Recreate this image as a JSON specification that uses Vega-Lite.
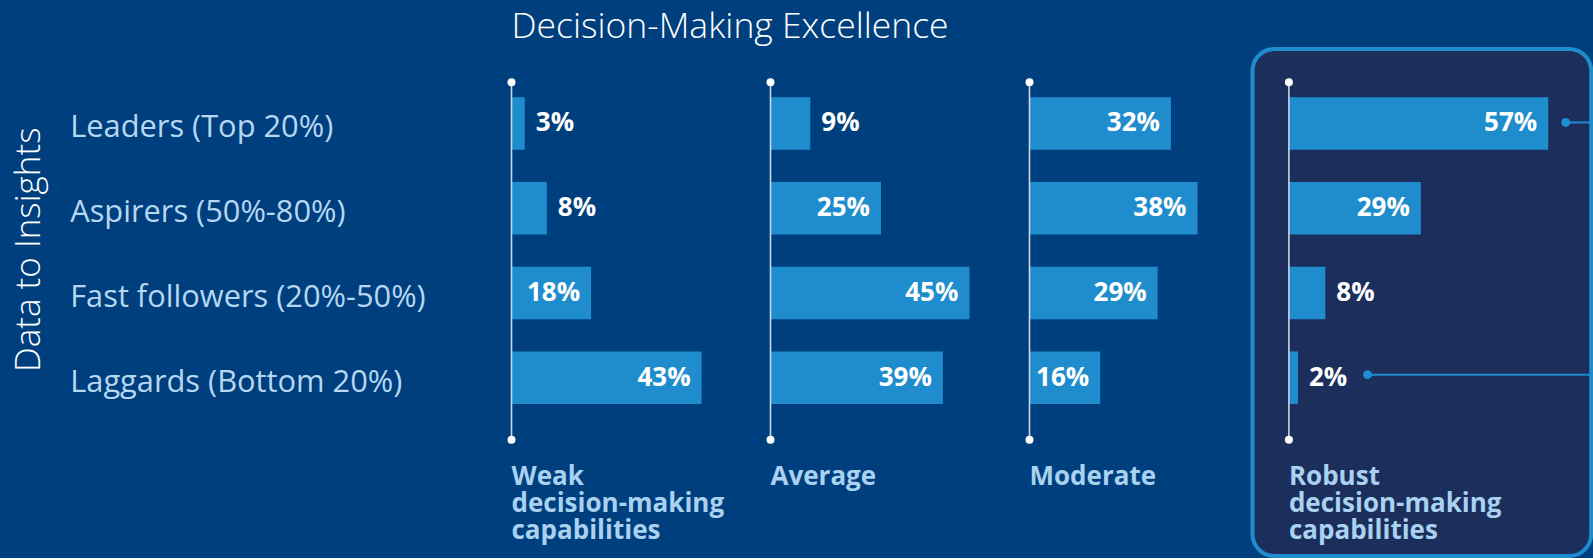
{
  "$schema": "https://vega.github.io/schema/vega-lite/v6.json",
  "background": "#003f7d",
  "padding": {"left": 10.5, "top": 9, "right": 0, "bottom": 0},
  "autosize": {"type": "pad"},
  "title": {"text": "Decision-Making Excellence", "anchor": "start", "frame": "group", "font": "Open Sans", "fontSize": 35.5, "fontWeight": 300, "color": "#ffffff", "offset": -26, "baseline": "alphabetic"},
  "datasets": {
    "bars": [
      {"level": "Weak", "segment": "Leaders (Top 20%)", "value": 0.03},
      {"level": "Weak", "segment": "Aspirers (50%-80%)", "value": 0.08},
      {"level": "Weak", "segment": "Fast followers (20%-50%)", "value": 0.18},
      {"level": "Weak", "segment": "Laggards (Bottom 20%)", "value": 0.43},
      {"level": "Average", "segment": "Leaders (Top 20%)", "value": 0.09},
      {"level": "Average", "segment": "Aspirers (50%-80%)", "value": 0.25},
      {"level": "Average", "segment": "Fast followers (20%-50%)", "value": 0.45},
      {"level": "Average", "segment": "Laggards (Bottom 20%)", "value": 0.39},
      {"level": "Moderate", "segment": "Leaders (Top 20%)", "value": 0.32},
      {"level": "Moderate", "segment": "Aspirers (50%-80%)", "value": 0.38},
      {"level": "Moderate", "segment": "Fast followers (20%-50%)", "value": 0.29},
      {"level": "Moderate", "segment": "Laggards (Bottom 20%)", "value": 0.16},
      {"level": "Robust", "segment": "Leaders (Top 20%)", "value": 0.57},
      {"level": "Robust", "segment": "Aspirers (50%-80%)", "value": 0.29},
      {"level": "Robust", "segment": "Fast followers (20%-50%)", "value": 0.08},
      {"level": "Robust", "segment": "Laggards (Bottom 20%)", "value": 0.02}
    ],
    "captions": [
      {"level": "Weak", "caption": "Weak\ndecision-making\ncapabilities"},
      {"level": "Average", "caption": "Average"},
      {"level": "Moderate", "caption": "Moderate"},
      {"level": "Robust", "caption": "Robust\ndecision-making\ncapabilities"}
    ]
  },
  "spacing": 0,
  "bounds": "flush",
  "hconcat": [
    {
      "width": 258.4, "height": 507,
      "data": {"name": "bars"},
      "transform": [{"filter": "datum.level === 'Weak'"}],
      "encoding": {"y": {"field": "segment", "type": "nominal",
        "scale": {"domain": ["Leaders (Top 20%)", "Aspirers (50%-80%)", "Fast followers (20%-50%)", "Laggards (Bottom 20%)"], "range": [48.2, 354.9], "paddingInner": 0.3804, "paddingOuter": 0},
        "axis": {"title": "Data to Insights", "labelAlign": "left", "labelBaseline": "middle", "labelPadding": 441.8, "labelOffset": 5, "labelFont": "Open Sans", "labelFontSize": 30.8, "labelColor": "#b6d7f2", "labelLimit": 0, "domain": false, "ticks": false, "grid": false, "titleFont": "Open Sans", "titleFontSize": 35, "titleFontWeight": 300, "titleColor": "#ffffff", "titleAngle": 270, "titleAlign": "center", "titleBaseline": "middle", "titleX": -483.3, "titleY": 200.3}}},
      "layer": [
        {"mark": {"type": "bar", "color": "#1f8dcd"}, "encoding": {"x": {"field": "value", "type": "quantitative", "scale": {"domain": [0, 0.5846], "nice": false, "zero": false}, "axis": null}}},
        {"transform": [{"filter": "datum.value >= 0.1"}], "mark": {"type": "text", "align": "right", "baseline": "middle", "dx": -11, "font": "Open Sans", "fontSize": 26, "fontWeight": "bold", "color": "#ffffff"}, "encoding": {"x": {"field": "value", "type": "quantitative"}, "text": {"field": "value", "type": "quantitative", "format": ".0%"}}},
        {"transform": [{"filter": "datum.value < 0.1"}], "mark": {"type": "text", "align": "left", "baseline": "middle", "dx": 11, "font": "Open Sans", "fontSize": 26, "fontWeight": "bold", "color": "#ffffff"}, "encoding": {"x": {"field": "value", "type": "quantitative"}, "text": {"field": "value", "type": "quantitative", "format": ".0%"}}},
        {"data": {"name": "captions"}, "transform": [{"filter": "datum.level === 'Weak'"}], "mark": {"type": "rule", "color": "#c9d4e6", "strokeWidth": 1.6, "yOffset": -41.15, "y2Offset": 62.15}, "encoding": {"x": {"datum": 0, "type": "quantitative"}, "y": {"datum": "Leaders (Top 20%)", "type": "nominal"}, "y2": {"datum": "Laggards (Bottom 20%)"}}},
        {"data": {"name": "captions"}, "transform": [{"filter": "datum.level === 'Weak'"}], "mark": {"type": "point", "filled": true, "opacity": 1, "color": "#ffffff", "size": 64, "yOffset": -41.15}, "encoding": {"x": {"datum": 0, "type": "quantitative"}, "y": {"datum": "Leaders (Top 20%)", "type": "nominal"}}},
        {"data": {"name": "captions"}, "transform": [{"filter": "datum.level === 'Weak'"}], "mark": {"type": "point", "filled": true, "opacity": 1, "color": "#ffffff", "size": 64, "yOffset": 62.15}, "encoding": {"x": {"datum": 0, "type": "quantitative"}, "y": {"datum": "Laggards (Bottom 20%)", "type": "nominal"}}},
        {"data": {"name": "captions"}, "transform": [{"filter": "datum.level === 'Weak'"}], "mark": {"type": "text", "align": "left", "baseline": "alphabetic", "lineBreak": "\n", "lineHeight": 26.8, "font": "Open Sans", "fontSize": 26, "fontWeight": "bold", "color": "#a9d1f0", "yOffset": 107.6}, "encoding": {"x": {"datum": 0, "type": "quantitative"}, "y": {"datum": "Laggards (Bottom 20%)", "type": "nominal"}, "text": {"field": "caption"}}}
      ]
    },
    {
      "width": 258.5, "height": 507,
      "data": {"name": "bars"},
      "transform": [{"filter": "datum.level === 'Average'"}],
      "encoding": {"y": {"field": "segment", "type": "nominal",
        "scale": {"domain": ["Leaders (Top 20%)", "Aspirers (50%-80%)", "Fast followers (20%-50%)", "Laggards (Bottom 20%)"], "range": [48.2, 354.9], "paddingInner": 0.3804, "paddingOuter": 0},
        "axis": null}},
      "layer": [
        {"mark": {"type": "bar", "color": "#1f8dcd"}, "encoding": {"x": {"field": "value", "type": "quantitative", "scale": {"domain": [0, 0.5848], "nice": false, "zero": false}, "axis": null}}},
        {"transform": [{"filter": "datum.value >= 0.1"}], "mark": {"type": "text", "align": "right", "baseline": "middle", "dx": -11, "font": "Open Sans", "fontSize": 26, "fontWeight": "bold", "color": "#ffffff"}, "encoding": {"x": {"field": "value", "type": "quantitative"}, "text": {"field": "value", "type": "quantitative", "format": ".0%"}}},
        {"transform": [{"filter": "datum.value < 0.1"}], "mark": {"type": "text", "align": "left", "baseline": "middle", "dx": 11, "font": "Open Sans", "fontSize": 26, "fontWeight": "bold", "color": "#ffffff"}, "encoding": {"x": {"field": "value", "type": "quantitative"}, "text": {"field": "value", "type": "quantitative", "format": ".0%"}}},
        {"data": {"name": "captions"}, "transform": [{"filter": "datum.level === 'Average'"}], "mark": {"type": "rule", "color": "#c9d4e6", "strokeWidth": 1.6, "yOffset": -41.15, "y2Offset": 62.15}, "encoding": {"x": {"datum": 0, "type": "quantitative"}, "y": {"datum": "Leaders (Top 20%)", "type": "nominal"}, "y2": {"datum": "Laggards (Bottom 20%)"}}},
        {"data": {"name": "captions"}, "transform": [{"filter": "datum.level === 'Average'"}], "mark": {"type": "point", "filled": true, "opacity": 1, "color": "#ffffff", "size": 64, "yOffset": -41.15}, "encoding": {"x": {"datum": 0, "type": "quantitative"}, "y": {"datum": "Leaders (Top 20%)", "type": "nominal"}}},
        {"data": {"name": "captions"}, "transform": [{"filter": "datum.level === 'Average'"}], "mark": {"type": "point", "filled": true, "opacity": 1, "color": "#ffffff", "size": 64, "yOffset": 62.15}, "encoding": {"x": {"datum": 0, "type": "quantitative"}, "y": {"datum": "Laggards (Bottom 20%)", "type": "nominal"}}},
        {"data": {"name": "captions"}, "transform": [{"filter": "datum.level === 'Average'"}], "mark": {"type": "text", "align": "left", "baseline": "alphabetic", "lineBreak": "\n", "lineHeight": 26.8, "font": "Open Sans", "fontSize": 26, "fontWeight": "bold", "color": "#a9d1f0", "yOffset": 107.6}, "encoding": {"x": {"datum": 0, "type": "quantitative"}, "y": {"datum": "Laggards (Bottom 20%)", "type": "nominal"}, "text": {"field": "caption"}}}
      ]
    },
    {
      "width": 222.3, "height": 507,
      "data": {"name": "bars"},
      "transform": [{"filter": "datum.level === 'Moderate'"}],
      "encoding": {"y": {"field": "segment", "type": "nominal",
        "scale": {"domain": ["Leaders (Top 20%)", "Aspirers (50%-80%)", "Fast followers (20%-50%)", "Laggards (Bottom 20%)"], "range": [48.2, 354.9], "paddingInner": 0.3804, "paddingOuter": 0},
        "axis": null}},
      "layer": [
        {"mark": {"type": "bar", "color": "#1f8dcd"}, "encoding": {"x": {"field": "value", "type": "quantitative", "scale": {"domain": [0, 0.5029], "nice": false, "zero": false}, "axis": null}}},
        {"transform": [{"filter": "datum.value >= 0.1"}], "mark": {"type": "text", "align": "right", "baseline": "middle", "dx": -11, "font": "Open Sans", "fontSize": 26, "fontWeight": "bold", "color": "#ffffff"}, "encoding": {"x": {"field": "value", "type": "quantitative"}, "text": {"field": "value", "type": "quantitative", "format": ".0%"}}},
        {"data": {"name": "captions"}, "transform": [{"filter": "datum.level === 'Moderate'"}], "mark": {"type": "rule", "color": "#c9d4e6", "strokeWidth": 1.6, "yOffset": -41.15, "y2Offset": 62.15}, "encoding": {"x": {"datum": 0, "type": "quantitative"}, "y": {"datum": "Leaders (Top 20%)", "type": "nominal"}, "y2": {"datum": "Laggards (Bottom 20%)"}}},
        {"data": {"name": "captions"}, "transform": [{"filter": "datum.level === 'Moderate'"}], "mark": {"type": "point", "filled": true, "opacity": 1, "color": "#ffffff", "size": 64, "yOffset": -41.15}, "encoding": {"x": {"datum": 0, "type": "quantitative"}, "y": {"datum": "Leaders (Top 20%)", "type": "nominal"}}},
        {"data": {"name": "captions"}, "transform": [{"filter": "datum.level === 'Moderate'"}], "mark": {"type": "point", "filled": true, "opacity": 1, "color": "#ffffff", "size": 64, "yOffset": 62.15}, "encoding": {"x": {"datum": 0, "type": "quantitative"}, "y": {"datum": "Laggards (Bottom 20%)", "type": "nominal"}}},
        {"data": {"name": "captions"}, "transform": [{"filter": "datum.level === 'Moderate'"}], "mark": {"type": "text", "align": "left", "baseline": "alphabetic", "lineBreak": "\n", "lineHeight": 26.8, "font": "Open Sans", "fontSize": 26, "fontWeight": "bold", "color": "#a9d1f0", "yOffset": 107.6}, "encoding": {"x": {"datum": 0, "type": "quantitative"}, "y": {"datum": "Laggards (Bottom 20%)", "type": "nominal"}, "text": {"field": "caption"}}}
      ]
    },
    {
      "width": 338.7, "height": 507,
      "view": {"fill": "#1c2f5c", "stroke": "#1f8dcd", "strokeWidth": 4, "cornerRadius": 22},
      "data": {"name": "bars"},
      "transform": [{"filter": "datum.level === 'Robust'"}],
      "encoding": {"y": {"field": "segment", "type": "nominal",
        "scale": {"domain": ["Leaders (Top 20%)", "Aspirers (50%-80%)", "Fast followers (20%-50%)", "Laggards (Bottom 20%)"], "range": [48.2, 354.9], "paddingInner": 0.3804, "paddingOuter": 0},
        "axis": null}},
      "layer": [
        {"mark": {"type": "bar", "color": "#1f8dcd"}, "encoding": {"x": {"field": "value", "type": "quantitative", "scale": {"domain": [-0.08, 0.6644], "nice": false, "zero": false}, "axis": null}}},
        {"transform": [{"filter": "datum.value >= 0.1"}], "mark": {"type": "text", "align": "right", "baseline": "middle", "dx": -11, "font": "Open Sans", "fontSize": 26, "fontWeight": "bold", "color": "#ffffff"}, "encoding": {"x": {"field": "value", "type": "quantitative"}, "text": {"field": "value", "type": "quantitative", "format": ".0%"}}},
        {"transform": [{"filter": "datum.value < 0.1"}], "mark": {"type": "text", "align": "left", "baseline": "middle", "dx": 11, "font": "Open Sans", "fontSize": 26, "fontWeight": "bold", "color": "#ffffff"}, "encoding": {"x": {"field": "value", "type": "quantitative"}, "text": {"field": "value", "type": "quantitative", "format": ".0%"}}},
        {"transform": [{"filter": "datum.segment === 'Leaders (Top 20%)'"}], "mark": {"type": "rule", "color": "#1f8dcd", "strokeWidth": 2, "xOffset": 17.5, "yOffset": -1}, "encoding": {"x": {"field": "value", "type": "quantitative"}, "x2": {"datum": 0.6644}}},
        {"transform": [{"filter": "datum.segment === 'Leaders (Top 20%)'"}], "mark": {"type": "point", "filled": true, "opacity": 1, "color": "#1f8dcd", "size": 80, "xOffset": 17.5, "yOffset": -1}, "encoding": {"x": {"field": "value", "type": "quantitative"}}},
        {"transform": [{"filter": "datum.segment === 'Laggards (Bottom 20%)'"}], "mark": {"type": "rule", "color": "#1f8dcd", "strokeWidth": 2, "xOffset": 69.5, "yOffset": -3}, "encoding": {"x": {"field": "value", "type": "quantitative"}, "x2": {"datum": 0.6644}}},
        {"transform": [{"filter": "datum.segment === 'Laggards (Bottom 20%)'"}], "mark": {"type": "point", "filled": true, "opacity": 1, "color": "#1f8dcd", "size": 80, "xOffset": 69.5, "yOffset": -3}, "encoding": {"x": {"field": "value", "type": "quantitative"}}},
        {"data": {"name": "captions"}, "transform": [{"filter": "datum.level === 'Robust'"}], "mark": {"type": "rule", "color": "#c9d4e6", "strokeWidth": 1.6, "yOffset": -41.15, "y2Offset": 62.15}, "encoding": {"x": {"datum": 0, "type": "quantitative"}, "y": {"datum": "Leaders (Top 20%)", "type": "nominal"}, "y2": {"datum": "Laggards (Bottom 20%)"}}},
        {"data": {"name": "captions"}, "transform": [{"filter": "datum.level === 'Robust'"}], "mark": {"type": "point", "filled": true, "opacity": 1, "color": "#ffffff", "size": 64, "yOffset": -41.15}, "encoding": {"x": {"datum": 0, "type": "quantitative"}, "y": {"datum": "Leaders (Top 20%)", "type": "nominal"}}},
        {"data": {"name": "captions"}, "transform": [{"filter": "datum.level === 'Robust'"}], "mark": {"type": "point", "filled": true, "opacity": 1, "color": "#ffffff", "size": 64, "yOffset": 62.15}, "encoding": {"x": {"datum": 0, "type": "quantitative"}, "y": {"datum": "Laggards (Bottom 20%)", "type": "nominal"}}},
        {"data": {"name": "captions"}, "transform": [{"filter": "datum.level === 'Robust'"}], "mark": {"type": "text", "align": "left", "baseline": "alphabetic", "lineBreak": "\n", "lineHeight": 26.8, "font": "Open Sans", "fontSize": 26, "fontWeight": "bold", "color": "#a9d1f0", "yOffset": 107.6}, "encoding": {"x": {"datum": 0, "type": "quantitative"}, "y": {"datum": "Laggards (Bottom 20%)", "type": "nominal"}, "text": {"field": "caption"}}}
      ]
    }
  ],
  "config": {"view": {"stroke": null}, "font": "Open Sans"}
}
